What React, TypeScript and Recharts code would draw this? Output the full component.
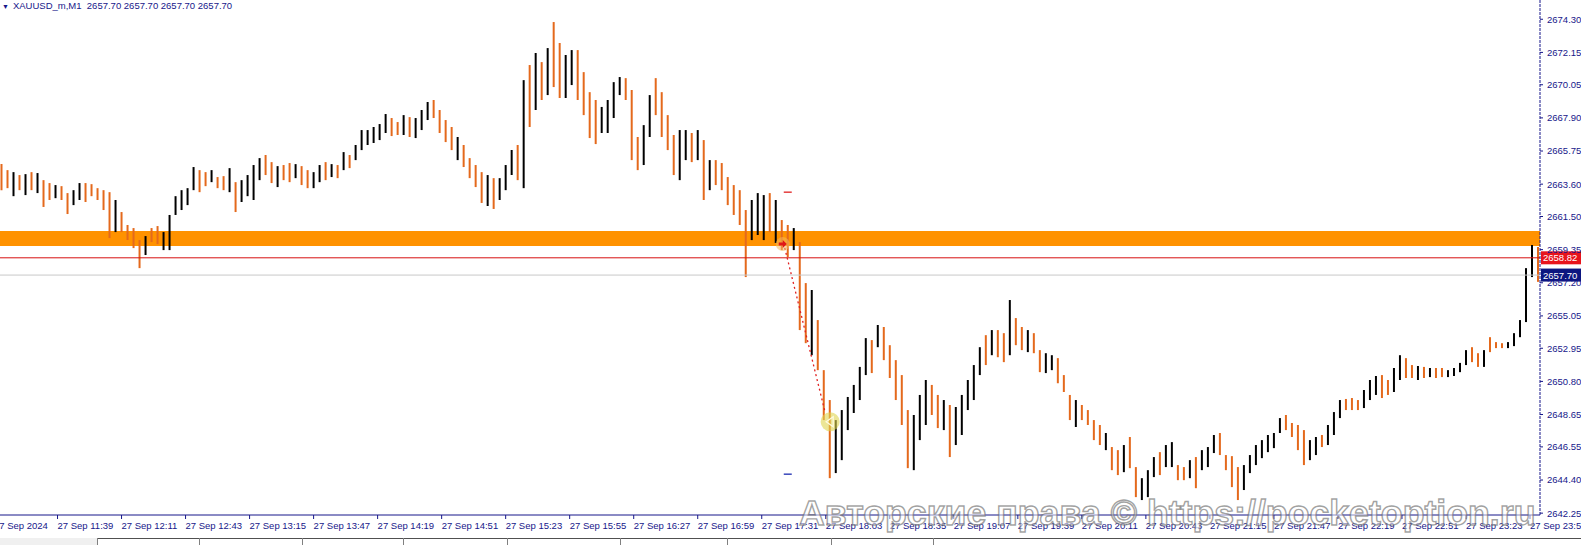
import React from 'react';
import {
  ComposedChart,
  Bar,
  Cell,
  XAxis,
  YAxis,
  ReferenceArea,
  ReferenceLine,
  ReferenceDot,
} from 'recharts';

// one bar every 3 minutes, first bar at 11:11
const startMinute = 671;
const barStep = 3;

const highs = [
  2664.90, 2664.51, 2664.38, 2664.19, 2664.25, 2664.38, 2664.32, 2663.86, 2663.67, 2663.54,
  2663.47, 2663.02, 2663.21, 2663.67, 2663.67, 2663.60, 2663.34, 2663.21, 2663.08, 2662.57,
  2661.79, 2660.95, 2660.75, 2659.97, 2660.23, 2660.75, 2660.88, 2660.49, 2661.60, 2662.82,
  2663.21, 2663.34, 2664.71, 2664.51, 2664.38, 2664.51, 2664.06, 2664.12, 2664.64, 2663.73,
  2663.86, 2664.19, 2664.84, 2665.29, 2665.49, 2665.03, 2664.77, 2664.84, 2664.97, 2664.90,
  2664.77, 2664.51, 2664.38, 2664.84, 2665.03, 2664.90, 2664.84, 2665.68, 2665.49, 2666.14,
  2667.11, 2667.11, 2667.31, 2667.50, 2668.15, 2667.89, 2667.63, 2668.08, 2667.95, 2667.89,
  2668.41, 2668.93, 2669.06, 2668.41, 2667.76, 2667.31, 2666.66, 2666.14, 2665.29, 2664.84,
  2664.38, 2664.19, 2663.99, 2663.99, 2664.84, 2665.81, 2666.14, 2670.35, 2671.33, 2672.11,
  2671.52, 2672.43, 2674.12, 2672.76, 2671.98, 2672.30, 2672.30, 2670.87, 2669.57, 2669.06,
  2668.61, 2669.06, 2670.22, 2670.55, 2670.48, 2669.71, 2666.66, 2667.43, 2669.38, 2670.48,
  2669.57, 2668.08, 2666.79, 2667.11, 2667.11, 2666.92, 2667.11, 2666.46, 2665.16, 2665.16,
  2664.97, 2664.06, 2663.54, 2663.21, 2661.92, 2662.57, 2663.02, 2662.89, 2663.02, 2662.57,
  2661.27, 2660.95, 2660.75, 2659.84, 2657.18, 2656.73, 2654.78, 2651.53, 2649.59, 2648.29,
  2648.94, 2649.79, 2650.57, 2651.74, 2653.61, 2653.48, 2654.46, 2654.33, 2653.15, 2652.18,
  2651.21, 2648.94, 2648.62, 2649.92, 2650.89, 2650.57, 2649.92, 2649.59, 2649.27, 2649.14,
  2649.92, 2650.89, 2651.86, 2653.02, 2653.80, 2654.13, 2654.13, 2653.93, 2656.08, 2654.91,
  2654.33, 2654.13, 2653.93, 2652.83, 2652.63, 2652.50, 2652.31, 2651.21, 2649.92, 2649.59,
  2649.27, 2648.94, 2648.29, 2647.97, 2647.45, 2646.54, 2646.34, 2646.67, 2647.19, 2645.24,
  2644.52, 2645.04, 2645.89, 2646.21, 2646.67, 2646.86, 2645.37, 2645.24, 2645.69, 2645.89,
  2646.34, 2646.54, 2647.32, 2647.45, 2646.02, 2645.95, 2645.24, 2645.37, 2646.02, 2646.67,
  2646.99, 2647.32, 2647.45, 2648.42, 2648.62, 2648.10, 2647.97, 2647.64, 2646.99, 2647.19,
  2647.32, 2647.97, 2648.81, 2649.59, 2649.66, 2649.72, 2649.59, 2650.24, 2650.89, 2651.15,
  2651.21, 2650.89, 2651.67, 2652.50, 2652.31, 2651.86, 2651.80, 2651.74, 2651.67, 2651.67,
  2651.67, 2651.53, 2651.67, 2652.00, 2652.83, 2653.02, 2652.63, 2652.83, 2653.67, 2653.35,
  2653.28, 2653.35, 2653.93, 2654.78, 2658.15, 2659.65, 2659.52,
];

const lows = [
  2663.21, 2663.34, 2662.82, 2663.21, 2662.89, 2663.21, 2663.02, 2662.12, 2662.57, 2662.69,
  2662.57, 2661.66, 2662.24, 2662.57, 2662.44, 2662.82, 2662.57, 2661.92, 2660.10, 2660.49,
  2660.49, 2659.97, 2659.45, 2658.15, 2659.00, 2659.84, 2659.71, 2659.32, 2659.32, 2661.60,
  2661.92, 2662.24, 2663.21, 2663.08, 2663.47, 2663.73, 2663.34, 2663.21, 2663.08, 2661.79,
  2662.44, 2662.82, 2662.57, 2663.86, 2664.19, 2663.67, 2663.41, 2663.86, 2663.73, 2663.99,
  2663.54, 2663.34, 2663.34, 2663.73, 2663.86, 2664.06, 2663.99, 2664.51, 2664.64, 2665.16,
  2665.81, 2666.14, 2666.27, 2666.46, 2666.92, 2666.72, 2666.79, 2666.79, 2666.66, 2666.59,
  2667.11, 2667.76, 2667.89, 2666.92, 2666.33, 2665.81, 2665.16, 2664.71, 2663.99, 2663.41,
  2662.38, 2662.18, 2661.99, 2662.57, 2663.21, 2664.19, 2663.86, 2663.34, 2667.31, 2668.41,
  2669.06, 2669.38, 2669.90, 2669.19, 2669.19, 2670.03, 2669.06, 2668.08, 2666.59, 2666.20,
  2666.92, 2666.92, 2667.89, 2669.38, 2669.06, 2665.16, 2664.51, 2664.84, 2666.66, 2668.08,
  2666.66, 2665.81, 2664.19, 2663.86, 2665.16, 2665.03, 2665.16, 2662.57, 2663.21, 2663.54,
  2663.21, 2662.24, 2661.60, 2660.95, 2657.57, 2659.97, 2660.30, 2659.97, 2660.49, 2659.78,
  2659.32, 2658.87, 2659.32, 2654.13, 2653.28, 2652.50, 2651.53, 2648.29, 2644.52, 2644.85,
  2645.69, 2647.64, 2648.75, 2649.59, 2651.21, 2651.34, 2653.02, 2652.18, 2651.02, 2649.59,
  2647.97, 2645.17, 2645.04, 2646.99, 2647.97, 2648.62, 2647.77, 2647.64, 2645.89, 2646.67,
  2647.32, 2648.94, 2649.59, 2651.21, 2651.86, 2652.50, 2652.37, 2652.05, 2652.50, 2653.15,
  2652.83, 2652.70, 2652.63, 2651.40, 2651.34, 2651.53, 2650.68, 2650.11, 2648.29, 2647.84,
  2648.29, 2647.97, 2646.99, 2646.67, 2646.34, 2645.04, 2644.72, 2644.91, 2645.17, 2643.29,
  2643.10, 2643.29, 2644.59, 2644.72, 2645.24, 2645.24, 2644.39, 2644.39, 2644.52, 2643.87,
  2645.04, 2645.24, 2646.15, 2646.02, 2645.04, 2643.94, 2643.10, 2643.75, 2644.85, 2645.37,
  2645.82, 2646.21, 2646.47, 2647.45, 2647.64, 2647.19, 2646.34, 2645.37, 2645.69, 2646.02,
  2646.54, 2646.67, 2647.32, 2648.42, 2648.94, 2648.94, 2648.94, 2649.07, 2649.59, 2649.92,
  2649.72, 2649.92, 2650.11, 2650.89, 2651.02, 2651.02, 2650.89, 2651.02, 2651.08, 2651.02,
  2651.08, 2651.08, 2651.15, 2651.40, 2651.86, 2652.05, 2651.74, 2651.74, 2652.70, 2652.96,
  2652.96, 2652.96, 2653.09, 2653.67, 2654.65, 2657.57, 2657.26,
];

// u = bullish bar (black), d = bearish bar (orange)
const directions = [
  'ddudududdu', 'dduudddddu', 'ddddudduuu', 'uuudduddud', 'uuuudduddu',
  'dduudududu', 'uuuuuddudu', 'uudddduddd', 'duduuududu', 'dudduudddd',
  'uuuuddduud', 'ddduududud', 'ddddduuudu', 'dduddudddu', 'uuuuududdd',
  'dduuuddudu', 'uuuududdud', 'dudduudddu', 'dddduddudd', 'uuuduuddud',
  'uuudddduuu', 'uuuudddduu', 'duuuddduuu', 'dduuddudud', 'duuuuddudd',
  'duuuuud',
].join('');

const timeLabels = [
  '27 Sep 2024', '27 Sep 11:39', '27 Sep 12:11', '27 Sep 12:43', '27 Sep 13:15',
  '27 Sep 13:47', '27 Sep 14:19', '27 Sep 14:51', '27 Sep 15:23', '27 Sep 15:55',
  '27 Sep 16:27', '27 Sep 16:59', '27 Sep 17:31', '27 Sep 18:03', '27 Sep 18:35',
  '27 Sep 19:07', '27 Sep 19:39', '27 Sep 20:11', '27 Sep 20:43', '27 Sep 21:15',
  '27 Sep 21:47', '27 Sep 22:19', '27 Sep 22:51', '27 Sep 23:23', '27 Sep 23:55',
];

const priceTicks = [
  2674.30, 2672.15, 2670.05, 2667.90, 2665.75, 2663.60, 2661.50, 2659.35,
  2657.20, 2655.05, 2652.95, 2650.80, 2648.65, 2646.55, 2644.40, 2642.25,
];

const zoneTop = 2660.56;
const zoneBottom = 2659.58;
const levelPrice = 2658.82;
const bidPrice = 2657.70;
const title = 'XAUUSD_m,M1  2657.70 2657.70 2657.70 2657.70';

// trade marks (time in minutes, price)
const stopMark = { t1: 1062, t2: 1066, price: 2663.08 };
const takeMark = { t1: 1062, t2: 1066, price: 2644.78 };
const openMark = { t: 1061.5, price: 2659.71 };
const closeMark = { t: 1085.2, price: 2648.18 };

const NAVY = '#17178a';
const UP = '#000000';
const DOWN = '#e4691c';
const FONT = '"Liberation Sans", Arial, sans-serif';

const bars = highs.map((h, i) => ({
  t: startMinute + i * barStep,
  range: [lows[i], h],
  up: directions[i] === 'u',
}));

const toMinutes = (label: string) => {
  const m = label.match(/(\d+):(\d+)$/);
  return m ? Number(m[1]) * 60 + Number(m[2]) : startMinute;
};
const timeTicks = timeLabels.map(toMinutes);
const labelByTime: Record<number, string> = {};
timeTicks.forEach((t, i) => (labelByTime[t] = timeLabels[i]));

const TimeTick = (props: any) => {
  const { x, y, payload } = props;
  const first = payload.value === startMinute;
  return (
    <g>
      {!first && <line x1={x} x2={x} y1={y} y2={y + 4} stroke={NAVY} />}
      <text
        x={first ? x - 7.5 : x}
        y={y + 14}
        fill={NAVY}
        fontSize={9.5}
        fontFamily={FONT}
        textAnchor="start"
      >
        {labelByTime[payload.value]}
      </text>
    </g>
  );
};

const PriceTag = (props: any) => {
  const { viewBox, text, bg } = props;
  if (!viewBox) return null;
  const x = viewBox.x + viewBox.width + 1;
  const y = viewBox.y;
  return (
    <g>
      <rect x={x} y={y - 6.5} width={41} height={13} fill={bg} />
      <text x={x + 2} y={y + 3.5} fill="#ffffff" fontSize={9.5} fontFamily={FONT}>
        {text}
      </text>
    </g>
  );
};

const OpenDot = (props: any) => {
  const { cx, cy } = props;
  return (
    <g>
      <circle cx={cx} cy={cy} r={7} fill="#f3b860" fillOpacity={0.55} />
      <path
        d={`M${cx - 4} ${cy - 1.5} h4 v-2.5 l4 4 l-4 4 v-2.5 h-4 z`}
        fill="#e01818"
      />
    </g>
  );
};

const CloseDot = (props: any) => {
  const { cx, cy } = props;
  return (
    <g>
      <circle cx={cx} cy={cy} r={9.5} fill="#e0d650" fillOpacity={0.6} />
      <path
        d={`M${cx + 3} ${cy - 5} L${cx - 4} ${cy} L${cx + 3} ${cy + 5} Z`}
        fill="none"
        stroke="#fffbe0"
        strokeWidth={1.3}
      />
    </g>
  );
};

const tabSeparators = [97, 199, 302, 403, 507, 620, 727, 831, 933];

const App: React.FC = () => {
  return (
    <div
      style={{
        position: 'absolute',
        left: 0,
        top: 0,
        width: 1581,
        height: 545,
        background: '#ffffff',
        overflow: 'hidden',
        fontFamily: FONT,
      }}
    >
      <ComposedChart
        width={1581}
        height={545}
        data={bars}
        margin={{ top: 0, right: 0, bottom: 0, left: 0 }}
        barCategoryGap={0}
      >
        <XAxis
          dataKey="t"
          type="number"
          domain={[670.25, 1440]}
          ticks={timeTicks}
          tick={<TimeTick />}
          tickLine={false}
          tickSize={0}
          tickMargin={0}
          height={30}
          axisLine={{ stroke: NAVY }}
          interval={0}
          allowDataOverflow
        />
        <YAxis
          orientation="right"
          type="number"
          domain={[2642.13, 2675.55]}
          ticks={priceTicks}
          width={41}
          tickSize={3}
          tickMargin={4}
          interval={0}
          allowDataOverflow
          axisLine={{ stroke: NAVY, strokeDasharray: '3 1' }}
          tickLine={{ stroke: NAVY }}
          tick={{ fill: NAVY, fontSize: 9.5, fontFamily: FONT }}
          tickFormatter={(v: number) => v.toFixed(2)}
        />
        <ReferenceArea
          y1={zoneBottom}
          y2={zoneTop}
          fill="#ff9200"
          fillOpacity={1}
          stroke="none"
        />
        <ReferenceLine
          y={levelPrice}
          stroke="#d81010"
          strokeWidth={1}
          label={<PriceTag text={levelPrice.toFixed(2)} bg="#e8141c" />}
        />
        <ReferenceLine
          y={bidPrice}
          stroke="#c8c8c8"
          strokeWidth={1}
          label={<PriceTag text={bidPrice.toFixed(2)} bg="#0c1680" />}
        />
        <Bar dataKey="range" barSize={2} isAnimationActive={false}>
          {bars.map((b, i) => (
            <Cell key={i} fill={b.up ? UP : DOWN} />
          ))}
        </Bar>
        <ReferenceLine
          segment={[
            { x: openMark.t + 1, y: openMark.price - 0.25 },
            { x: closeMark.t - 2.5, y: closeMark.price + 0.6 },
          ]}
          stroke="#e02020"
          strokeDasharray="2 3"
          strokeWidth={1.3}
        />
        <ReferenceLine
          segment={[
            { x: stopMark.t1, y: stopMark.price },
            { x: stopMark.t2, y: stopMark.price },
          ]}
          stroke="#e02020"
          strokeWidth={1.3}
        />
        <ReferenceLine
          segment={[
            { x: takeMark.t1, y: takeMark.price },
            { x: takeMark.t2, y: takeMark.price },
          ]}
          stroke="#1a2ab0"
          strokeWidth={1.3}
        />
        <ReferenceDot x={openMark.t} y={openMark.price} r={7} shape={<OpenDot />} />
        <ReferenceDot x={closeMark.t} y={closeMark.price} r={9} shape={<CloseDot />} />
      </ComposedChart>

      <div
        style={{
          position: 'absolute',
          left: 2,
          top: 0,
          fontSize: 9.5,
          color: NAVY,
          whiteSpace: 'pre',
          lineHeight: '11px',
        }}
      >
        <span style={{ fontSize: 7, marginRight: 4 }}>▼</span>
        {title}
      </div>

      <div
        style={{
          position: 'absolute',
          left: 799,
          top: 493,
          fontSize: 35.7,
          fontWeight: 'bold',
          whiteSpace: 'nowrap',
          color: 'rgba(255,255,255,0.5)',
          WebkitTextStroke: '1.4px rgba(100,100,100,0.6)',
          pointerEvents: 'none',
        }}
      >
        Авторские права © https://pocketoption.ru
      </div>

      <div
        style={{
          position: 'absolute',
          left: 0,
          top: 538,
          width: 1581,
          height: 7,
          background: '#f0f0f0',
        }}
      >
        <div
          style={{
            position: 'absolute',
            left: 97,
            top: 0,
            right: 0,
            height: 7,
            background: '#ffffff',
            borderTop: '1px solid #505050',
          }}
        />
        {tabSeparators.map((x) => (
          <div
            key={x}
            style={{
              position: 'absolute',
              left: x,
              top: 0,
              width: 1,
              height: 7,
              background: '#808080',
            }}
          />
        ))}
      </div>
    </div>
  );
};

export default App;
